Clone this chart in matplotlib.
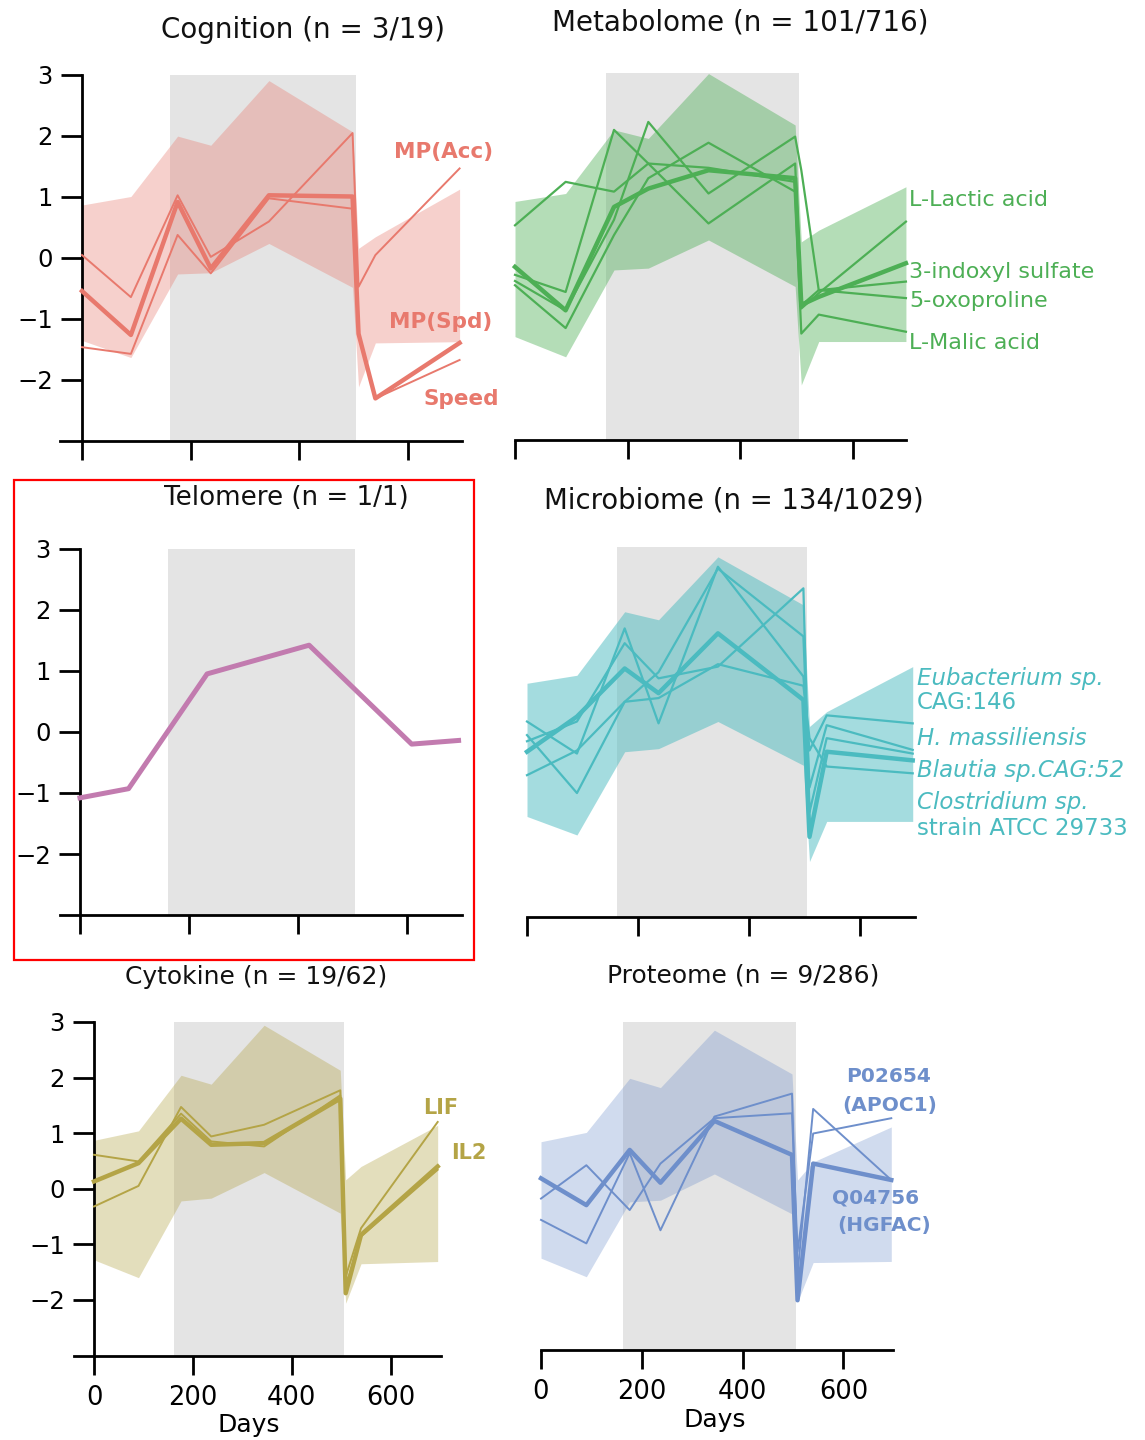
import matplotlib
matplotlib.use("Agg")
import matplotlib.pyplot as plt
from matplotlib.patches import Rectangle

W, H = 1145, 1440
fig = plt.figure(figsize=(W / 100, H / 100), dpi=100)
plt.rcParams['font.family'] = ['DejaVu Sans']

# ---------------- data ----------------
days = [0, 90, 176, 237, 344, 498, 509, 540, 695]
flight = [162, 505]
xticks = [0, 200, 400, 600]
yticks = [-2, -1, 0, 1, 2, 3]

cog_upper = [0.86, 1.00, 1.99, 1.84, 2.90, 2.06, 0.15, 0.34, 1.12]
cog_lower = [-1.36, -1.64, -0.27, -0.25, 0.23, -0.49, -2.12, -1.40, -1.38]
cog_spd = [-0.55, -1.27, 0.91, -0.18, 1.02, 1.00, -1.25, -2.31, -1.40]
cog_acc = [0.04, -0.65, 1.02, 0.01, 0.59, 2.04, -0.48, 0.04, 1.46]
cog_speed = [-1.47, -1.58, 0.37, -0.26, 0.97, 0.80, -1.25, -2.31, -1.68]

met_upper = [0.90, 1.03, 2.07, 1.93, 2.99, 2.15, 0.24, 0.43, 1.14]
met_lower = [-1.31, -1.64, -0.22, -0.19, 0.27, -0.49, -2.10, -1.39, -1.39]
met_indoxyl = [-0.17, -0.88, 0.81, 1.11, 1.41, 1.28, -0.79, -0.66, -0.11]
met_a = [0.51, 1.22, 1.06, 1.52, 0.54, 1.52, -0.80, -0.55, -0.68]
met_b = [-0.30, -0.58, 2.07, 1.52, 1.45, 1.22, -0.85, -0.60, 0.57]
met_c = [-0.40, -0.88, 0.60, 2.20, 1.03, 1.96, 1.41, -0.55, -0.41]
met_d = [-0.47, -1.17, 0.35, 1.28, 1.86, 1.06, -1.26, -0.95, -1.23]

telo_days = [0, 89, 233, 420, 608, 694]
telo_vals = [-1.08, -0.93, 0.95, 1.42, -0.20, -0.14]

mic_upper = [0.79, 0.92, 1.95, 1.82, 2.84, 2.06, 0.09, 0.33, 1.06]
mic_lower = [-1.37, -1.67, -0.32, -0.27, 0.17, -0.54, -2.10, -1.45, -1.45]
mic_blautia = [-0.32, 0.25, 1.03, 0.63, 1.60, 0.52, -1.70, -0.32, -0.46]
mic_t1 = [0.17, -0.35, 1.68, 0.14, 2.68, 0.90, -0.30, 0.27, 0.14]
mic_t2 = [-0.05, -0.99, 0.49, 0.97, 2.65, 1.55, -0.90, 0.11, -0.29]
mic_t3 = [-0.15, 0.17, 1.44, 0.87, 1.06, 2.33, -1.30, -0.10, -0.35]
mic_t4 = [-0.70, -0.30, 0.49, 0.55, 1.10, 0.75, -0.10, -0.56, -0.67]

cyt_upper = [0.87, 1.04, 2.04, 1.88, 2.94, 2.13, 0.16, 0.40, 1.14]
cyt_lower = [-1.28, -1.60, -0.22, -0.17, 0.29, -0.44, -2.06, -1.35, -1.31]
cyt_il2 = [0.13, 0.46, 1.26, 0.79, 0.82, 1.62, -1.88, -0.83, 0.40]
cyt_lif = [-0.32, 0.05, 1.47, 0.94, 1.15, 1.77, -1.58, -0.71, 1.20]
cyt_c = [0.61, 0.49, 1.35, 0.85, 0.76, 1.68, -1.76, -0.86, 0.34]

pro_upper = [0.81, 0.98, 1.97, 1.80, 2.85, 2.05, 0.11, 0.44, 1.08]
pro_lower = [-1.32, -1.66, -0.29, -0.26, 0.22, -0.51, -2.12, -1.40, -1.38]
pro_mean = [0.14, -0.35, 0.66, 0.06, 1.19, 0.57, -2.09, 0.41, 0.11]
pro_apoc1 = [-0.23, 0.38, -0.44, 0.41, 1.24, 1.33, -1.20, 0.96, 1.24]
pro_hgfac = [-0.62, -1.05, 0.60, -0.81, 1.27, 1.69, -1.60, 1.41, 0.11]

C_COG = '#E8796D'
C_MET = '#4DAF55'
C_TEL = '#C27BAF'
C_MIC = '#4BBBC0'
C_CYT = '#B4A446'
C_PRO = '#6E8FCB'
GRAY = '#E4E4E4'


def px(x, y):
    return x / W, 1 - y / H


def make_ax(x0, ppd, y0, ppu, xlim, left_axis, xlabels, ytop=3.15):
    left = x0 + xlim[0] * ppd
    right = x0 + xlim[1] * ppd
    top = y0 - ytop * ppu
    bottom = y0 + 3 * ppu
    ax = fig.add_axes([left / W, 1 - bottom / H, (right - left) / W, (bottom - top) / H])
    ax.set_xlim(xlim)
    ax.set_ylim(-3, ytop)
    ax.patch.set_alpha(0)
    for s in ['top', 'right']:
        ax.spines[s].set_visible(False)
    ax.spines['bottom'].set_linewidth(2)
    ax.set_xticks(xticks)
    ax.tick_params(axis='x', direction='out', length=14, width=2,
                   labelsize=18.5, pad=7, labelbottom=xlabels)
    if left_axis:
        ax.spines['left'].set_position(('data', 0))
        ax.spines['left'].set_bounds(-3, 3)
        ax.spines['left'].set_linewidth(2)
        ax.set_yticks(yticks)
        ax.tick_params(axis='y', direction='out', length=15, width=2,
                       labelsize=17.5, pad=6)
    else:
        ax.spines['left'].set_visible(False)
        ax.set_yticks([])
    ax.fill_between(flight, -3, 3, color=GRAY, lw=0, zorder=0)
    return ax


def band(ax, lower, upper, color, alpha):
    ax.fill_between(days, lower, upper, color=color, alpha=alpha, lw=0, zorder=1)


# ---------------- Cognition ----------------
ax1 = make_ax(82, 0.5433, 257.5, 61.0, (-40, 700), True, False)
band(ax1, cog_lower, cog_upper, C_COG, 0.35)
for v in (cog_acc, cog_speed):
    ax1.plot(days, v, color=C_COG, lw=1.4, zorder=3, clip_on=False)
ax1.plot(days, cog_spd, color=C_COG, lw=3.2, zorder=4, clip_on=False)

# ---------------- Metabolome ----------------
ax2 = make_ax(515, 0.5625, 256.5, 61.17, (0, 695), False, False)
band(ax2, met_lower, met_upper, C_MET, 0.42)
for v in (met_a, met_b, met_c, met_d):
    ax2.plot(days, v, color=C_MET, lw=1.6, zorder=3, clip_on=False)
ax2.plot(days, met_indoxyl, color=C_MET, lw=3.2, zorder=4, clip_on=False)

# ---------------- Telomere ----------------
ax3 = make_ax(80, 0.5455, 731.9, 61.06, (-37, 700), True, False)
ax3.plot(telo_days, telo_vals, color=C_TEL, lw=3.6, zorder=4, clip_on=False)

# ---------------- Microbiome ----------------
ax4 = make_ax(527, 0.555, 732, 61.67, (0, 699), False, False)
band(ax4, mic_lower, mic_upper, C_MIC, 0.5)
for v in (mic_t1, mic_t2, mic_t3, mic_t4):
    ax4.plot(days, v, color=C_MIC, lw=1.6, zorder=3, clip_on=False)
ax4.plot(days, mic_blautia, color=C_MIC, lw=3.2, zorder=4, clip_on=False)

# ---------------- Cytokine ----------------
ax5 = make_ax(94, 0.4945, 1188.7, 55.6, (-40, 702), True, True)
band(ax5, cyt_lower, cyt_upper, C_CYT, 0.36)
for v in (cyt_lif, cyt_c):
    ax5.plot(days, v, color=C_CYT, lw=1.4, zorder=3, clip_on=False)
ax5.plot(days, cyt_il2, color=C_CYT, lw=3.2, zorder=4, clip_on=False)

# ---------------- Proteome ----------------
ax6 = make_ax(541, 0.504, 1186, 54.67, (0, 698), False, True)
band(ax6, pro_lower, pro_upper, C_PRO, 0.32)
for v in (pro_apoc1, pro_hgfac):
    ax6.plot(days, v, color=C_PRO, lw=1.4, zorder=3, clip_on=False)
ax6.plot(days, pro_mean, color=C_PRO, lw=3.2, zorder=4, clip_on=False)

# ---------------- titles ----------------
titles = [
    ("Cognition (n = 3/19)", 303, 30, 20),
    ("Metabolome (n = 101/716)", 740, 22, 20),
    ("Telomere (n = 1/1)", 286, 498, 18.8),
    ("Microbiome (n = 134/1029)", 734, 500, 19.8),
    ("Cytokine (n = 19/62)", 256, 977, 18),
    ("Proteome (n = 9/286)", 743, 975, 18),
]
for t, x, y, s in titles:
    fig.text(*px(x, y), t, ha='center', va='center', fontsize=s, color='#111111')

fig.text(*px(249, 1425), "Days", ha='center', va='center', fontsize=18)
fig.text(*px(715, 1420), "Days", ha='center', va='center', fontsize=18)

# ---------------- annotations ----------------
def lab(x, y, s, color, size, weight='normal', style='normal', ha='left'):
    fig.text(*px(x, y), s, ha=ha, va='center', fontsize=size, color=color,
             fontweight=weight, fontstyle=style)

lab(444, 152, "MP(Acc)", C_COG, 15.5, 'bold', ha='center')
lab(441, 322, "MP(Spd)", C_COG, 15.5, 'bold', ha='center')
lab(461, 399, "Speed", C_COG, 15.5, 'bold', ha='center')

lab(909, 200, "L-Lactic acid", C_MET, 16)
lab(909, 272, "3-indoxyl sulfate", C_MET, 16)
lab(909, 301, "5-oxoproline", C_MET, 16)
lab(909, 343, "L-Malic acid", C_MET, 16)

lab(917, 678, "Eubacterium sp.", C_MIC, 16.5, style='italic')
lab(917, 703, "CAG:146", C_MIC, 16.5)
lab(917, 739, "H. massiliensis", C_MIC, 16.5, style='italic')
lab(917, 771, "Blautia sp.CAG:52", C_MIC, 16.5, style='italic')
lab(917, 803, "Clostridium sp.", C_MIC, 16.5, style='italic')
lab(917, 829, "strain ATCC 29733", C_MIC, 16.5)

lab(441, 1108, "LIF", C_CYT, 15, 'bold', ha='center')
lab(469, 1153, "IL2", C_CYT, 15, 'bold', ha='center')

lab(889, 1077, "P02654", C_PRO, 14.5, 'bold', ha='center')
lab(890, 1105, "(APOC1)", C_PRO, 14.5, 'bold', ha='center')
lab(876, 1198, "Q04756", C_PRO, 14.5, 'bold', ha='center')
lab(884, 1226, "(HGFAC)", C_PRO, 14.5, 'bold', ha='center')

# red highlight box around telomere panel
fig.patches.append(Rectangle(px(14, 960), 460 / W, 480 / H, transform=fig.transFigure,
                             fill=False, edgecolor='#FF0000', lw=1.6))

fig.savefig("out.png", dpi=100)
